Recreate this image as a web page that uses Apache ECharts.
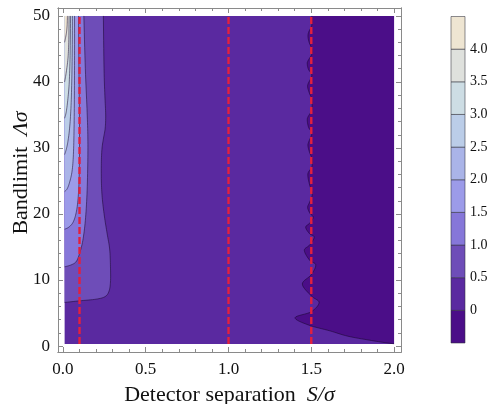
<!DOCTYPE html>
<html><head><meta charset="utf-8">
<script src="https://cdn.jsdelivr.net/npm/echarts@6/dist/echarts.min.js"></script>
<style>html,body{margin:0;padding:0;background:#fff}#c{width:496px;height:404px}</style>
</head><body><div id="c"></div>
<script>
// ---- tick labels ----
const xMajor = [0, 0.5, 1.0, 1.5, 2.0];
const xMajorLabels = ['0.0', '0.5', '1.0', '1.5', '2.0'];
const xMinor = [0.1,0.2,0.3,0.4,0.6,0.7,0.8,0.9,1.1,1.2,1.3,1.4,1.6,1.7,1.8,1.9];
const yMajor = [0, 10, 20, 30, 40, 50];
const yMajorLabels = ['0', '10', '20', '30', '40', '50'];
const yMinor = [2,4,6,8,12,14,16,18,22,24,26,28,32,34,36,38,42,44,46,48];
const levels = [0, 0.5, 1.0, 1.5, 2.0, 2.5, 3.0, 3.5, 4.0];
const levelLabels = ['0', '0.5', '1.0', '1.5', '2.0', '2.5', '3.0', '3.5', '4.0'];
// colour bands: <0, 0-0.5, 0.5-1, ..., 3.5-4, >4
const bandLow = [-0.5, 0, 0.5, 1.0, 1.5, 2.0, 2.5, 3.0, 3.5, 4.0];
const bandColors = ['#4b0e88','#5a29a0','#6e4db8','#8677d9','#9c9be9','#aab4e8','#bbcde8','#cddde4','#dfe1dd','#eee5d2'];

// ---- data extent of the contour plot ----
const dataX = [0.01, 2.0];
const dataY = [0.3, 50];

// ---- contour lines (x = S/sigma, y = Lambda sigma) ----
const contour05 = [[0.01,6.6],[0.1,6.85],[0.2,7.1],[0.255,7.5],[0.278,8.3],[0.287,9.7],[0.287,12],[0.282,14.7],[0.267,17],[0.25,19.7],[0.237,22.5],[0.232,25],[0.232,28],[0.236,30],[0.245,31.5],[0.255,33],[0.258,35],[0.253,38],[0.248,42],[0.244,50]];
const contour10 = [[0.01,12],[0.05,12.3],[0.08,12.8],[0.1,14],[0.12,16],[0.135,19],[0.145,23],[0.15,28],[0.15,32],[0.145,36],[0.135,42],[0.126,50]];
const contour15 = [[0.01,17.7],[0.035,18],[0.06,18.7],[0.078,20],[0.09,22],[0.097,25],[0.1,30],[0.099,36],[0.096,42],[0.094,50]];
const contour20 = [[0.01,23.4],[0.025,23.8],[0.04,24.8],[0.055,26.5],[0.063,29],[0.067,33],[0.069,38],[0.07,44],[0.07,50]];
const contour25 = [[0.01,29],[0.02,29.8],[0.03,31],[0.04,33],[0.048,36],[0.053,40],[0.056,45],[0.057,50]];
const contour30 = [[0.01,34.5],[0.02,35.5],[0.03,37.5],[0.038,40],[0.043,44],[0.046,50]];
const contour35 = [[0.01,40],[0.02,41.5],[0.03,43.5],[0.035,46],[0.037,50]];
const contour40 = [[0.01,46],[0.02,47.3],[0.025,48.5],[0.027,50]];
const contourZero = [[1.503,50],[1.503,48.6],[1.485,47.6],[1.480,46.9],[1.487,46.0],[1.503,45.0],[1.503,44.2],[1.480,43.2],[1.476,42.7],[1.483,41.9],[1.503,41.0],[1.482,39.8],[1.478,39.2],[1.490,38.2],[1.503,37.4],[1.503,35.8],[1.480,34.7],[1.476,34.1],[1.484,33.1],[1.503,32.2],[1.484,30.9],[1.480,30.3],[1.490,29.3],[1.504,28.4],[1.504,27.2],[1.482,26.3],[1.480,25.6],[1.490,24.4],[1.506,23.0],[1.490,21.8],[1.478,21.0],[1.492,20.1],[1.512,19.5],[1.490,18.6],[1.466,18.0],[1.490,17.0],[1.518,16.5],[1.490,15.3],[1.458,14.5],[1.490,13.0],[1.527,12.3],[1.500,10.8],[1.446,9.4],[1.500,7.6],[1.547,6.6],[1.500,5.2],[1.402,4.3],[1.482,3.2],[1.613,2.3],[1.72,1.5],[1.85,0.9],[1.95,0.5],[2.0,0.35]];

// dashed detector positions
const detectorS = [0.1, 1.0, 1.5];

// ---- drawing helpers ----
function smoothPx(px, n) {
  const out = [px[0]];
  for (let i = 0; i < px.length - 1; i++) {
    const p0 = px[Math.max(i - 1, 0)], p1 = px[i], p2 = px[i + 1], p3 = px[Math.min(i + 2, px.length - 1)];
    for (let k = 1; k <= n; k++) {
      const t = k / n, t2 = t * t, t3 = t2 * t;
      const f = (a, b, c, d) => 0.5 * (2 * b + (-a + c) * t + (2 * a - 5 * b + 4 * c - d) * t2 + (-a + 3 * b - 3 * c + d) * t3);
      out.push([f(p0[0], p1[0], p2[0], p3[0]), f(p0[1], p1[1], p2[1], p3[1])]);
    }
  }
  return out;
}
const leftCurves = [contour05, contour10, contour15, contour20, contour25, contour30, contour35, contour40];
const regions = [{kind: 'base', color: bandColors[1]}, {kind: 'zero', color: bandColors[0]}];
leftCurves.forEach((c, i) => regions.push({kind: 'left', curve: c, color: bandColors[i + 2]}));
const lineCurves = leftCurves.concat([contourZero]);

function regionPolygon(r, api) {
  if (r.kind === 'base') {
    return [[dataX[0], dataY[0]], [dataX[1], dataY[0]], [dataX[1], dataY[1]], [dataX[0], dataY[1]]].map(p => api.coord(p));
  }
  if (r.kind === 'zero') {
    const pts = smoothPx(contourZero.map(p => api.coord(p)), 8);
    pts.push(api.coord([dataX[1], dataY[0]]));
    pts.push(api.coord([dataX[1], dataY[1]]));
    return pts;
  }
  const pts = smoothPx(r.curve.map(p => api.coord(p)), 8);
  pts.push(api.coord([dataX[0], dataY[1]]));
  return pts;
}

const frameColor = '#8a8a8a';
const serif = 'Liberation Serif';
function tickAxis(type, pos, vals, len, labels, extra) {
  const isX = type === 'x';
  const a = {
    type: 'value', position: pos, gridIndex: 0,
    min: isX ? -0.03 : -0.9, max: isX ? 2.042 : 51.2,
    splitLine: {show: false},
    axisLine: {show: true, onZero: false, lineStyle: {color: frameColor, width: 1}},
    axisTick: {show: true, inside: true, length: len, customValues: vals, lineStyle: {color: frameColor, width: 1}},
    axisLabel: labels ? {show: true, customValues: vals, formatter: v => labels[vals.indexOf(v)], color: '#111', fontFamily: serif, fontSize: 17, margin: isX ? 9 : 8} : {show: false}
  };
  return Object.assign(a, extra || {});
}

const xAxes = [
  tickAxis('x', 'bottom', xMajor, 5, xMajorLabels, {
    name: 'Detector separation  {i|S/σ}', nameLocation: 'middle', nameGap: 32, nameMoveOverlap: false,
    nameTextStyle: {fontFamily: serif, fontSize: 22, color: '#111', rich: {i: {fontFamily: serif, fontStyle: 'italic', fontSize: 22, color: '#111'}}}
  }),
  tickAxis('x', 'bottom', xMinor, 3, null),
  tickAxis('x', 'top', xMajor, 5, null),
  tickAxis('x', 'top', xMinor, 3, null),
  {type: 'value', gridIndex: 1, min: 0, max: 1, show: false}
];
const yAxes = [
  tickAxis('y', 'left', yMajor, 5, yMajorLabels, {
    name: 'Bandlimit  {i|Λσ}', nameLocation: 'middle', nameGap: 26, nameMoveOverlap: false,
    nameTextStyle: {fontFamily: serif, fontSize: 22, color: '#111', padding: [0, 0, 0, 14], rich: {i: {fontFamily: serif, fontStyle: 'italic', fontSize: 22, color: '#111'}}}
  }),
  tickAxis('y', 'left', yMinor, 3, null),
  tickAxis('y', 'right', yMajor, 5, null),
  tickAxis('y', 'right', yMinor, 3, null),
  {type: 'value', gridIndex: 1, position: 'right', min: -0.5, max: 4.5,
   splitLine: {show: false}, axisLine: {show: false},
   axisTick: {show: true, inside: false, length: 4, customValues: levels, lineStyle: {color: '#bbbbbb'}},
   axisLabel: {show: true, customValues: levels, formatter: v => levelLabels[levels.indexOf(v)], color: '#111', fontFamily: serif, fontSize: 14, margin: 5}}
];

const series = [
  {
    type: 'custom', xAxisIndex: 0, yAxisIndex: 0, z: 1, silent: true,
    data: regions.map((r, i) => [1, 25, i]),
    renderItem: (params, api) => {
      const r = regions[params.dataIndex];
      return {type: 'polygon', shape: {points: regionPolygon(r, api)}, style: {fill: r.color, stroke: null}};
    }
  },
  {
    type: 'custom', xAxisIndex: 0, yAxisIndex: 0, z: 2, silent: true,
    data: lineCurves.map((c, i) => [1, 25, i]),
    renderItem: (params, api) => {
      const c = lineCurves[params.dataIndex];
      return {type: 'polyline', shape: {points: smoothPx(c.map(p => api.coord(p)), 8)},
              style: {fill: null, stroke: 'rgba(25,5,45,0.6)', lineWidth: 0.9}};
    }
  }
];
detectorS.forEach(s => series.push({
  type: 'line', xAxisIndex: 0, yAxisIndex: 0, z: 3, silent: true, symbol: 'none',
  data: [[s, dataY[0]], [s, dataY[1]]],
  lineStyle: {color: '#e3203d', width: 2.4, type: [7, 3]}
}));
series.push({
  type: 'custom', xAxisIndex: 4, yAxisIndex: 4, z: 2, silent: true,
  data: bandLow.map((lo, i) => [0, lo, i]),
  renderItem: (params, api) => {
    const i = params.dataIndex;
    const lo = bandLow[i], hi = lo + 0.5;
    const a = api.coord([0, hi]), b = api.coord([1, lo]);
    return {type: 'rect', shape: {x: a[0], y: a[1], width: b[0] - a[0], height: b[1] - a[1]},
            style: {fill: bandColors[i], stroke: 'rgba(50,50,60,0.55)', lineWidth: 1}};
  }
});

const chart = echarts.init(document.getElementById('c'), null, {renderer: 'canvas'});
chart.setOption({
  backgroundColor: '#fff',
  animation: false,
  grid: [
    {left: 58, top: 8, right: 95, bottom: 52, containLabel: false, outerBoundsMode: 'none'},
    {left: 451, top: 16.5, width: 14, height: 326.5, containLabel: false, outerBoundsMode: 'none'}
  ],
  xAxis: xAxes,
  yAxis: yAxes,
  series: series
});
</script></body></html>
